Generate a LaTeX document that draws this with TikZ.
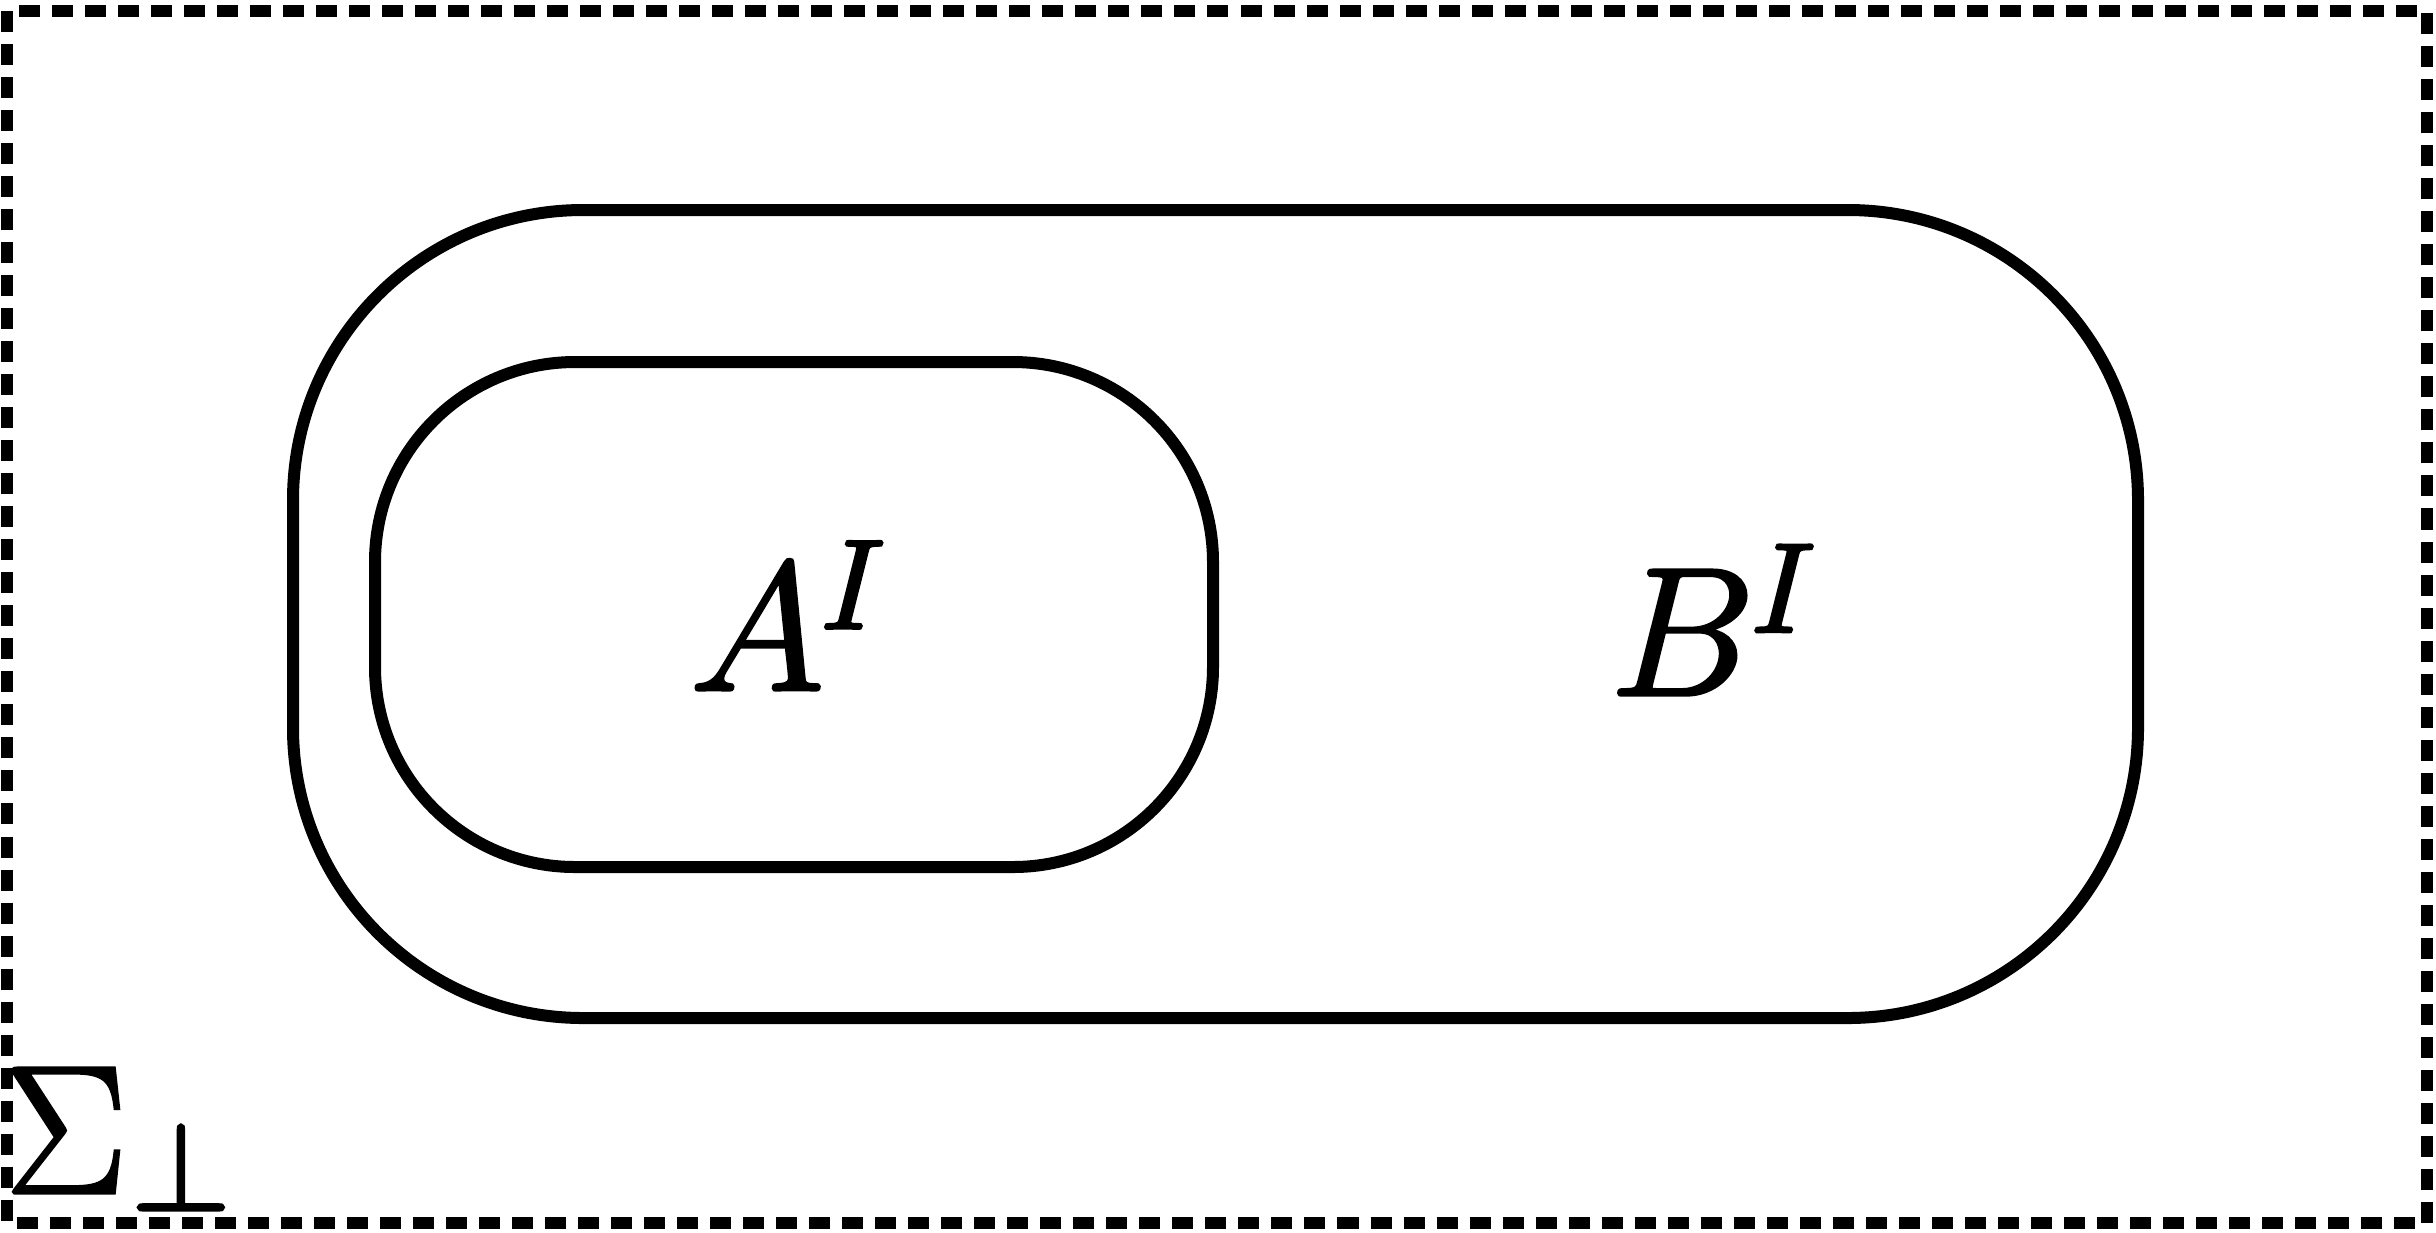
\documentclass[tikz,border=0pt]{standalone}
\newcommand{\thickink}[1]{\special{pdf:literal direct 2 Tr 0.45 w}#1\special{pdf:literal direct 0 Tr}}
\tikzset{
  frame/.style={line width=0.12cm, dash pattern=on 0.21cm off 0.12cm},
  setline/.style={line width=0.12cm},
  lbl/.style={inner sep=0pt, outer sep=0pt, font=\Huge, scale=2.09, transform shape, anchor=base west}
}
\begin{document}
\begin{tikzpicture}[x=0.01cm, y=-0.01cm]
  \useasboundingbox (0,0) rectangle (2436,1232);
  \draw[frame] (7,11) rectangle (2427,1223);
  \draw[setline, rounded corners=2.9cm] (293,210) rectangle (2138,1018);
  \draw[setline, rounded corners=2.0cm] (375,362) rectangle (1213,867);
  \node[lbl] (a) at (690,690) {\thickink{$A$\kern-0.5pt\raisebox{8.4pt}{$\scriptscriptstyle I$}}};
  \node[lbl] (b) at (1610,695) {\thickink{$B$\kern-0.6pt\raisebox{8.6pt}{$\scriptscriptstyle I$}}};
  \node[lbl] (s) at (5,1193) {\thickink{$\Sigma$\kern0.6pt\raisebox{-2.3pt}{$\scriptscriptstyle\perp$}}};
\end{tikzpicture}
\end{document}
